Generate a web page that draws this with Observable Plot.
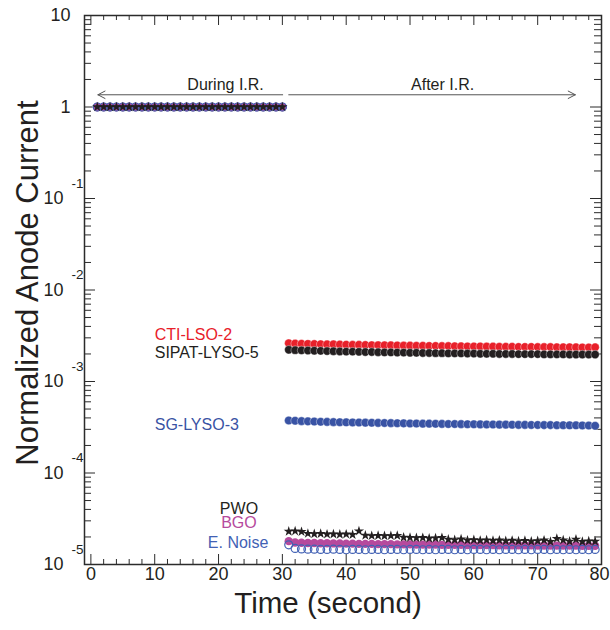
<!DOCTYPE html>
<html>
<head>
<meta charset="utf-8">
<script src="https://cdn.jsdelivr.net/npm/d3@7"></script>
<script src="https://cdn.jsdelivr.net/npm/@observablehq/plot@0.6"></script>
<style>
  html, body { margin: 0; padding: 0; background: #ffffff; }
  #chart svg { display: block; }
</style>
</head>
<body>
<div id="chart"></div>
<script>
// ---------------- data ----------------
const duringTime = [1,2,3,4,5,6,7,8,9,10,11,12,13,14,15,16,17,18,19,20,21,22,23,24,25,26,27,28,29,30];
// all crystals are normalized to 1 during irradiation
const duringValue = [1,1,1,1,1,1,1,1,1,1,1,1,1,1,1,1,1,1,1,1,1,1,1,1,1,1,1,1,1,1];

const afterTime = [31,32,33,34,35,36,37,38,39,40,41,42,43,44,45,46,47,48,49,50,51,52,53,54,55,56,57,58,59,60,61,62,63,64,65,66,67,68,69,70,71,72,73,74,75,76,77,78,79];

const ctiLso2 = [2.62e-3,2.60e-3,2.59e-3,2.58e-3,2.57e-3,2.56e-3,2.55e-3,2.55e-3,2.54e-3,2.53e-3,
  2.52e-3,2.52e-3,2.51e-3,2.50e-3,2.50e-3,2.49e-3,2.49e-3,2.48e-3,2.47e-3,2.47e-3,
  2.46e-3,2.46e-3,2.45e-3,2.45e-3,2.44e-3,2.44e-3,2.43e-3,2.43e-3,2.42e-3,2.42e-3,
  2.42e-3,2.41e-3,2.41e-3,2.40e-3,2.40e-3,2.40e-3,2.39e-3,2.39e-3,2.39e-3,2.38e-3,
  2.38e-3,2.38e-3,2.37e-3,2.37e-3,2.37e-3,2.37e-3,2.36e-3,2.36e-3,2.37e-3];

const sipatLyso5 = [2.22e-3,2.20e-3,2.19e-3,2.18e-3,2.17e-3,2.16e-3,2.15e-3,2.14e-3,2.13e-3,2.12e-3,
  2.12e-3,2.11e-3,2.10e-3,2.10e-3,2.09e-3,2.08e-3,2.08e-3,2.07e-3,2.07e-3,2.06e-3,
  2.06e-3,2.05e-3,2.05e-3,2.04e-3,2.04e-3,2.03e-3,2.03e-3,2.03e-3,2.02e-3,2.02e-3,
  2.01e-3,2.01e-3,2.01e-3,2.00e-3,2.00e-3,2.00e-3,1.99e-3,1.99e-3,1.99e-3,1.99e-3,
  1.98e-3,1.98e-3,1.98e-3,1.98e-3,1.97e-3,1.97e-3,1.97e-3,1.97e-3,1.97e-3];

const sgLyso3 = [3.75e-4,3.72e-4,3.69e-4,3.67e-4,3.65e-4,3.63e-4,3.62e-4,3.60e-4,3.59e-4,3.58e-4,
  3.57e-4,3.56e-4,3.55e-4,3.54e-4,3.53e-4,3.52e-4,3.51e-4,3.50e-4,3.49e-4,3.48e-4,
  3.47e-4,3.46e-4,3.46e-4,3.45e-4,3.44e-4,3.43e-4,3.43e-4,3.42e-4,3.41e-4,3.41e-4,
  3.40e-4,3.39e-4,3.39e-4,3.38e-4,3.38e-4,3.37e-4,3.36e-4,3.36e-4,3.35e-4,3.35e-4,
  3.34e-4,3.34e-4,3.33e-4,3.33e-4,3.32e-4,3.32e-4,3.31e-4,3.30e-4,3.28e-4];

const pwo = [2.30e-5,2.32e-5,2.28e-5,2.18e-5,2.16e-5,2.17e-5,2.14e-5,2.15e-5,2.13e-5,2.14e-5,
  2.12e-5,2.32e-5,2.08e-5,2.06e-5,2.07e-5,2.05e-5,2.06e-5,2.07e-5,1.98e-5,1.97e-5,
  1.95e-5,1.96e-5,1.93e-5,1.94e-5,1.96e-5,1.88e-5,1.86e-5,1.89e-5,1.84e-5,1.86e-5,
  1.83e-5,1.85e-5,1.82e-5,1.84e-5,1.81e-5,1.83e-5,1.80e-5,1.82e-5,1.79e-5,1.81e-5,
  1.84e-5,1.78e-5,1.92e-5,1.85e-5,1.79e-5,1.88e-5,1.78e-5,1.80e-5,1.79e-5];

const bgo = [1.80e-5,1.74e-5,1.73e-5,1.72e-5,1.72e-5,1.71e-5,1.71e-5,1.70e-5,1.70e-5,1.69e-5,
  1.69e-5,1.68e-5,1.68e-5,1.68e-5,1.67e-5,1.67e-5,1.67e-5,1.66e-5,1.66e-5,1.66e-5,
  1.65e-5,1.65e-5,1.65e-5,1.65e-5,1.64e-5,1.64e-5,1.64e-5,1.64e-5,1.63e-5,1.63e-5,
  1.63e-5,1.63e-5,1.63e-5,1.62e-5,1.62e-5,1.62e-5,1.62e-5,1.62e-5,1.62e-5,1.61e-5,
  1.61e-5,1.61e-5,1.61e-5,1.61e-5,1.61e-5,1.61e-5,1.60e-5,1.60e-5,1.60e-5];

const eNoise = [1.64e-5,1.50e-5,1.48e-5,1.47e-5,1.47e-5,1.46e-5,1.46e-5,1.47e-5,1.46e-5,1.45e-5,
  1.46e-5,1.46e-5,1.45e-5,1.46e-5,1.46e-5,1.45e-5,1.46e-5,1.46e-5,1.45e-5,1.46e-5,
  1.46e-5,1.45e-5,1.46e-5,1.45e-5,1.46e-5,1.46e-5,1.45e-5,1.46e-5,1.45e-5,1.46e-5,
  1.46e-5,1.45e-5,1.46e-5,1.45e-5,1.46e-5,1.46e-5,1.45e-5,1.46e-5,1.45e-5,1.46e-5,
  1.46e-5,1.45e-5,1.46e-5,1.45e-5,1.46e-5,1.45e-5,1.46e-5,1.45e-5,1.46e-5];

const seriesNames = ["CTI-LSO-2", "SIPAT-LYSO-5", "SG-LYSO-3", "PWO", "BGO", "E. Noise"];
const afterSeries = [ctiLso2, sipatLyso5, sgLyso3, pwo, bgo, eNoise];

const xTickValues = [0, 10, 20, 30, 40, 50, 60, 70, 80];
const xTickLabels = ["0", "10", "20", "30", "40", "50", "60", "70", "80"];
const yTickValues = [10, 1, 1e-1, 1e-2, 1e-3, 1e-4, 1e-5];
const yTickBase   = ["10", "1", "10", "10", "10", "10", "10"];
const yTickExp    = ["", "", "-1", "-2", "-3", "-4", "-5"];

const phaseLabels = ["During I.R.", "After I.R."];
const xTitle = "Time (second)";
const yTitle = "Normalized Anode Current";

// ---------------- table ----------------
const rows = [];
seriesNames.forEach((name, s) => {
  duringTime.forEach((t, i) => rows.push({series: name, time: t, value: duringValue[i]}));
  afterTime.forEach((t, i) => rows.push({series: name, time: t, value: afterSeries[s][i]}));
});
const of = (name) => rows.filter(d => d.series === name);

// tick positions
const xMinor = d3.range(2, 80, 2).filter(v => v % 10 !== 0);
const yMinor = [];
for (let e = -5; e < 1; e++) for (let m = 2; m <= 9; m++) yMinor.push(m * Math.pow(10, e));

// ---------------- layout ----------------
const W = 610, H = 630;
const mL = 84, mR = 9, mT = 15, mB = 66;
const plotW = W - mL - mR, plotH = H - mT - mB;
const axisColor = "#2b2b2b";

const colors = {
  red: "#e8202a",
  black: "#231f20",
  blue: "#3953a4",
  magenta: "#b64a9d",
  noise: "#4261b4"
};

const yIdx = yTickValues.map((_, i) => i);
const plainIdx = yIdx.filter(i => yTickExp[i] === "");
const expIdx = yIdx.filter(i => yTickExp[i] !== "");
const xIdx = xTickValues.map((_, i) => i);
const xInner = xIdx.slice(0, -1);
const xLast = xIdx.slice(-1);

const chart = Plot.plot({
  width: W, height: H,
  marginLeft: mL, marginRight: mR, marginTop: mT, marginBottom: mB,
  x: {domain: [-1, 80], axis: null},
  y: {type: "log", domain: [1e-5, 10], axis: null},
  style: {fontFamily: "'Liberation Sans', Arial, Helvetica, sans-serif", background: "#ffffff", color: "#231f20"},
  marks: [
    // inward ticks, left / right
    Plot.ruleY(yTickValues, {stroke: axisColor, strokeWidth: 1, insetRight: plotW - 11}),
    Plot.ruleY(yMinor, {stroke: axisColor, strokeWidth: 1, insetRight: plotW - 7}),
    Plot.ruleY(yTickValues, {stroke: axisColor, strokeWidth: 1, insetLeft: plotW - 11}),
    Plot.ruleY(yMinor, {stroke: axisColor, strokeWidth: 1, insetLeft: plotW - 7}),
    // inward ticks, bottom / top
    Plot.ruleX(xTickValues, {stroke: axisColor, strokeWidth: 1, insetTop: plotH - 10}),
    Plot.ruleX(xMinor, {stroke: axisColor, strokeWidth: 1, insetTop: plotH - 5}),
    Plot.ruleX(xTickValues, {stroke: axisColor, strokeWidth: 1, insetBottom: plotH - 10}),
    Plot.ruleX(xMinor, {stroke: axisColor, strokeWidth: 1, insetBottom: plotH - 5}),
    Plot.frame({stroke: axisColor, strokeWidth: 1.5}),

    // tick labels
    Plot.text(xInner, {x: i => xTickValues[i], text: i => xTickLabels[i], frameAnchor: "bottom", textAnchor: "middle", dy: 15, fontSize: 18, fill: "#231f20"}),
    Plot.text(xLast, {x: i => xTickValues[i], text: i => xTickLabels[i], frameAnchor: "bottom", textAnchor: "middle", dx: -2, dy: 15, fontSize: 18, fill: "#231f20"}),
    Plot.text(plainIdx, {y: i => yTickValues[i], text: i => yTickBase[i], frameAnchor: "left", dx: -14, textAnchor: "end", fontSize: 18, fill: "#231f20"}),
    Plot.text(expIdx, {y: i => yTickValues[i], text: i => yTickBase[i], frameAnchor: "left", dx: -21, textAnchor: "end", fontSize: 18, fill: "#231f20"}),
    Plot.text(expIdx, {y: i => yTickValues[i], text: i => yTickExp[i], frameAnchor: "left", dx: -13, dy: -15, textAnchor: "start", fontSize: 13.5, fill: "#231f20"}),

    // axis titles
    Plot.text([xTitle], {frameAnchor: "bottom", textAnchor: "middle", dx: -15, dy: 48, fontSize: 29.5, fill: "#231f20"}),
    Plot.text([yTitle], {frameAnchor: "left", textAnchor: "middle", dx: -56, dy: -7, rotate: -90, fontSize: 31, fill: "#231f20"}),

    // phase arrows
    Plot.arrow([0], {x1: 30.05, y1: 1.36, x2: 1.1, y2: 1.36, stroke: "#555555", strokeWidth: 1, headLength: 12, headAngle: 55}),
    Plot.arrow([0], {x1: 31.0, y1: 1.36, x2: 75.9, y2: 1.36, stroke: "#555555", strokeWidth: 1, headLength: 12, headAngle: 55}),
    Plot.text([phaseLabels[0]], {x: 21.1, y: 1.75, fontSize: 16, fill: "#231f20"}),
    Plot.text([phaseLabels[1]], {x: 55.1, y: 1.75, fontSize: 16, fill: "#231f20"}),

    // series
    Plot.dot(of("CTI-LSO-2"), {x: "time", y: "value", r: 4.2, fill: colors.red, stroke: "#ffffff", strokeWidth: 0.4}),
    Plot.dot(of("SIPAT-LYSO-5"), {x: "time", y: "value", r: 4.2, fill: colors.black, stroke: "#ffffff", strokeWidth: 0.4}),
    Plot.dot(of("SG-LYSO-3"), {x: "time", y: "value", r: 4.3, fill: colors.blue, stroke: "#ffffff", strokeWidth: 0.4}),
    Plot.dot(of("BGO"), {x: "time", y: "value", r: 4.2, fill: colors.magenta, stroke: "none"}),
    Plot.dot(of("E. Noise"), {x: "time", y: "value", r: 4, fill: "none", stroke: colors.noise, strokeWidth: 1.2}),
    Plot.dot(of("PWO"), {x: "time", y: "value", symbol: "star", r: 3.2, fill: colors.black, stroke: "none"}),

    // series labels
    Plot.text([seriesNames[0]], {x: 10, y: 3.27e-3, text: d => d, textAnchor: "start", fontSize: 16, fill: colors.red}),
    Plot.text([seriesNames[1]], {x: 10, y: 2.07e-3, text: d => d, textAnchor: "start", fontSize: 16, fill: colors.black}),
    Plot.text([seriesNames[2]], {x: 10, y: 3.39e-4, text: d => d, textAnchor: "start", fontSize: 16, fill: colors.blue}),
    Plot.text([seriesNames[3]], {x: 23.2, y: 4.1e-5, text: d => d, textAnchor: "middle", fontSize: 16, fill: colors.black}),
    Plot.text([seriesNames[4]], {x: 23.2, y: 2.85e-5, text: d => d, textAnchor: "middle", fontSize: 16, fill: colors.magenta}),
    Plot.text([seriesNames[5]], {x: 27.8, y: 1.71e-5, text: d => d, textAnchor: "end", fontSize: 16, fill: colors.noise})
  ]
});

document.getElementById("chart").appendChild(chart);
</script>
</body>
</html>
